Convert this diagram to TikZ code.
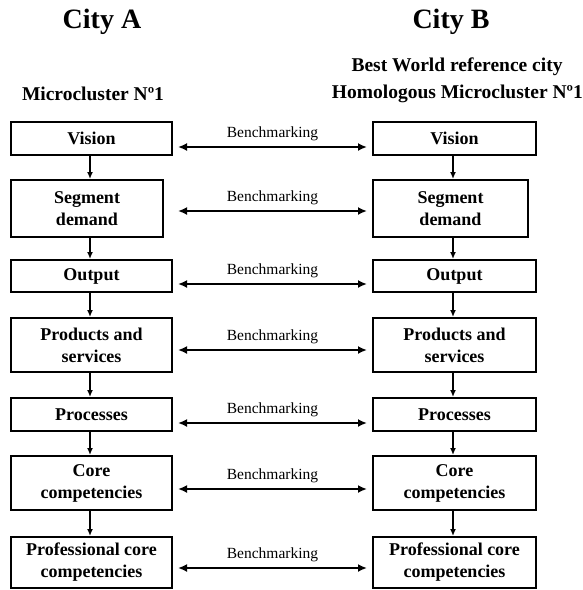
\documentclass[tikz,border=0pt]{standalone}
\usepackage{fontspec}
\setmainfont{Liberation Serif}
\usetikzlibrary{arrows.meta,calc}

\tikzset{
  stagebox/.style={draw, line width=2pt, align=center, inner sep=0pt,
    font=\fontsize{18}{22}\selectfont\bfseries},
  flow/.style={line width=1.7pt, -{Latex[length=7pt,width=6pt]}},
  bench/.style={line width=1.8pt, {Latex[length=9pt,width=8pt]}-{Latex[length=9pt,width=8pt]}},
  benchlabel/.style={font=\fontsize{15.5}{18}\selectfont, inner sep=0pt},
  heading/.style={font=\fontsize{19.5}{24}\selectfont\bfseries, inner sep=0pt},
  cityname/.style={font=\fontsize{28}{32}\selectfont\bfseries, inner sep=0pt}
}

\begin{document}
\begin{tikzpicture}[x=1pt,y=1pt]
\useasboundingbox (0,0) rectangle (583,-590);

% column headings
\node[cityname] (cityA) at (102,-22) {City A};
\node[cityname] (cityB) at (451,-22) {City B};
\node[heading] (bestref) at (457,-67) {Best World reference city};
\node[heading] (microA) at (93,-94) {Microcluster Nº1};
\node[heading, anchor=east] (microB) at (583,-94) {Homologous Microcluster Nº1};

% left column: City A
\node[stagebox, minimum width=161pt, minimum height=33pt] (a1) at (91.5,-138.5) {Vision};
\node[stagebox, minimum width=152pt, minimum height=57pt] (a2) at (87,-208.5) {Segment\\demand};
\node[stagebox, minimum width=161pt, minimum height=32pt] (a3) at (91.5,-276) {Output};
\node[stagebox, minimum width=161pt, minimum height=54pt] (a4) at (91.5,-345) {Products and\\services};
\node[stagebox, minimum width=161pt, minimum height=33pt] (a5) at (91.5,-414.5) {Processes};
\node[stagebox, minimum width=161pt, minimum height=54pt] (a6) at (91.5,-483) {Core\\competencies};
\node[stagebox, minimum width=161pt, minimum height=51pt] (a7) at (91.5,-562.5) {Professional core\\competencies};

% right column: City B
\node[stagebox, minimum width=163pt, minimum height=33pt] (b1) at (454.5,-138.5) {Vision};
\node[stagebox, minimum width=155pt, minimum height=57pt] (b2) at (450.5,-208.5) {Segment\\demand};
\node[stagebox, minimum width=163pt, minimum height=32pt] (b3) at (454.5,-276) {Output};
\node[stagebox, minimum width=163pt, minimum height=54pt] (b4) at (454.5,-345) {Products and\\services};
\node[stagebox, minimum width=163pt, minimum height=33pt] (b5) at (454.5,-414.5) {Processes};
\node[stagebox, minimum width=163pt, minimum height=54pt] (b6) at (454.5,-483) {Core\\competencies};
\node[stagebox, minimum width=163pt, minimum height=51pt] (b7) at (454.5,-562.5) {Professional core\\competencies};

% downward flow inside each column, on one common vertical per column
\foreach \u/\v in {1/2,2/3,3/4,4/5,5/6,6/7} {
  \draw[flow] ($(a\u.south -| a7.north)+(-1.5,0)$) -- ($(a\v.north -| a7.north)+(-1.5,0)$);
  \draw[flow] ($(b\u.south -| b7.north)+(-1.5,0)$) -- ($(b\v.north -| b7.north)+(-1.5,0)$);
}

% benchmarking links between homologous stages
\foreach \i/\y in {1/-147,2/-211,3/-284,4/-350,5/-423,6/-489,7/-568} {
  \coordinate (l\i) at (178,\y);
  \coordinate (r\i) at (367,\y);
  \draw[bench] (l\i) -- (r\i);
  \node[benchlabel] (t\i) at ($(l\i)!0.5!(r\i)+(0,13)$) {Benchmarking};
}
\end{tikzpicture}
\end{document}
